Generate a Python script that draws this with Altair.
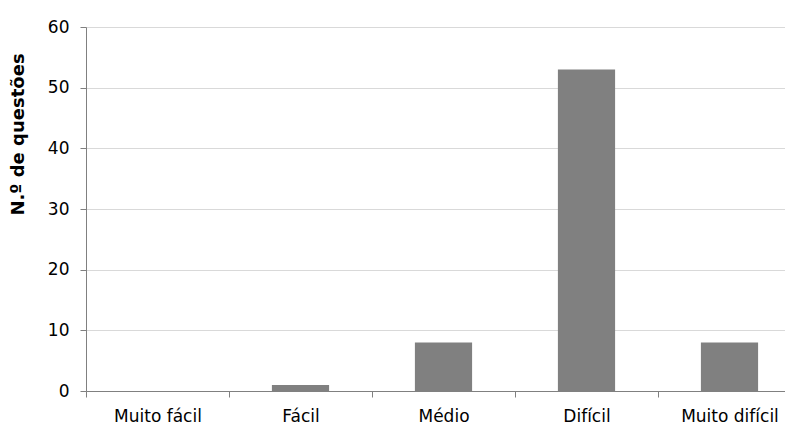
import altair as alt
import pandas as pd

categories = ["Muito fácil", "Fácil", "Médio", "Difícil", "Muito difícil"]
counts = [0, 1, 8, 53, 8]
y_ticks = [0, 10, 20, 30, 40, 50, 60]

df = pd.DataFrame({"cat": categories, "n": counts})

FONT = "DejaVu Sans"

chart = alt.Chart(df).mark_bar(
    color="#808080", width=alt.RelativeBandSize(0.4)
).encode(
    x=alt.X(
        "cat:N",
        sort=categories,
        scale=alt.Scale(paddingInner=0, paddingOuter=0, range=[0, 715]),
        axis=alt.Axis(
            title=None,
            labelAngle=0,
            tickBand="extent",
            domainColor="#808080",
            tickColor="#808080",
            tickSize=6,
            labelPadding=11,
            labelFont=FONT,
            labelFontSize=17,
            labelColor="#000000",
            grid=False,
        ),
    ),
    y=alt.Y(
        "n:Q",
        scale=alt.Scale(domain=[0, 60], nice=False),
        axis=alt.Axis(
            values=y_ticks,
            title="N.º de questões",
            titleFont=FONT,
            titleFontSize=18,
            titleFontWeight="bold",
            titleColor="#000000",
            titleX=-68,
            titleY=107,
            titleAlign="center",
            titleBaseline="middle",
            titleAngle=270,
            grid=True,
            gridColor="#d9d9d9",
            domainColor="#808080",
            tickColor="#808080",
            tickSize=6,
            labelPadding=11,
            labelFont=FONT,
            labelFontSize=17,
            labelColor="#000000",
        ),
    ),
).properties(
    width=699,
    height=364,
    autosize=alt.AutoSizeParams(type="none"),
    padding={"left": 78, "top": 19, "right": 0, "bottom": 40},
    background="#ffffff",
).configure_view(stroke=None)

chart.save("out.html", embed_options={"renderer": "svg", "actions": False})
